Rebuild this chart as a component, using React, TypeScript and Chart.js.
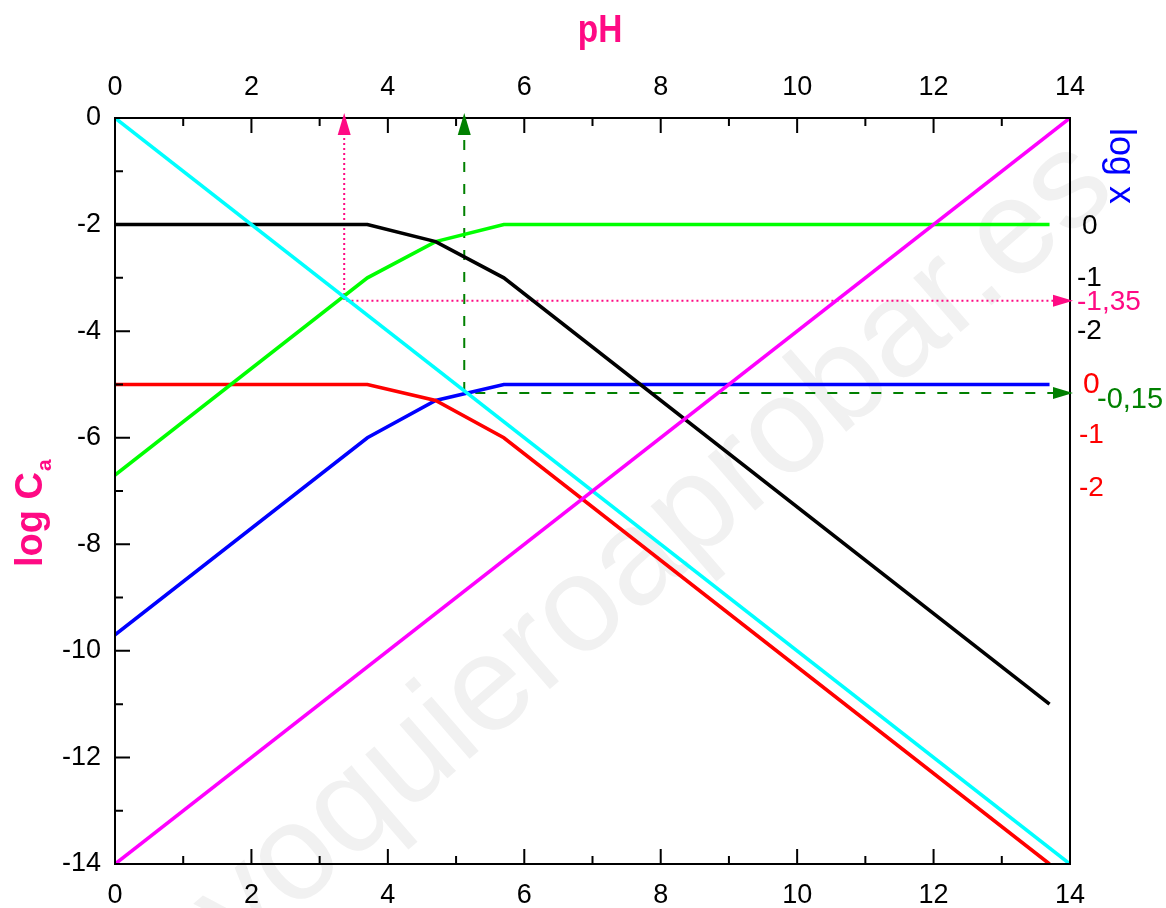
import React, { useEffect, useRef } from "react";
import { Chart, registerables } from "chart.js";

Chart.register(...registerables);

// ---- data ----
const phPoints = [0, 3.7, 4.7, 5.7, 13.7];
const blackSeries = [-2, -2, -2.32, -3, -11];
const greenSeries = [-6.7, -3, -2.32, -2, -2];
const redSeries = [-5, -5, -5.3, -6, -14];
const blueSeries = [-9.7, -6, -5.3, -5, -5];
const cyanPH = [0, 14];
const cyanSeries = [0, -14];
const magentaPH = [0, 14];
const magentaSeries = [-14, 0];
const pinkGuidePH = [3.36, 3.36, 14];
const pinkGuideY = [0, -3.43, -3.43];
const greenGuidePH = [5.12, 5.12, 14];
const greenGuideY = [0, -5.16, -5.16];
const xTickValues = [0, 2, 4, 6, 8, 10, 12, 14];
const yTickValues = [0, -2, -4, -6, -8, -10, -12, -14];
const rightLabelTexts = ["0", "-1", "-2", "-1,35", "0", "-1", "-2", "-0,15"];
const rightLabelValues = [-2, -3, -4, -3.43, -5, -6, -7, -5.16];

// ---- styles ----
const PINK = "#FF0A84";
const DGREEN = "#008000";
const FONT = "'Liberation Sans', Arial, Helvetica, sans-serif";
const rightLabelColors = ["#000", "#000", "#000", PINK, "#F00", "#F00", "#F00", DGREEN];
const rightLabelDx = [1082, 1077, 1077, 1077, 1083, 1079, 1079, 1097];
const rightLabelDy = [2, 0, 0, 2, 0, -2, -3, 7];
const rightLabelSize = [28, 28, 28, 28, 30, 28, 28, 29];

const pts = (xs: number[], ys: number[]) => xs.map((x, i) => ({ x, y: ys[i] }));

const decorPlugin = {
  id: "decor",
  beforeDraw(chart: any) {
    const ctx = chart.ctx;
    ctx.save();
    ctx.fillStyle = "#fff";
    ctx.fillRect(0, 0, chart.width, chart.height);
    // watermark
    ctx.translate(655, 548);
    ctx.rotate((-41 * Math.PI) / 180);
    ctx.font = `136px ${FONT}`;
    ctx.fillStyle = "#f1f1f1";
    ctx.textAlign = "center";
    ctx.textBaseline = "middle";
    ctx.fillText("yoquieroaprobar.es", 0, 0);
    ctx.restore();
  },
  afterDraw(chart: any) {
    const ctx = chart.ctx;
    const xs = chart.scales.x;
    const ys = chart.scales.y;
    const { left, right, top, bottom } = chart.chartArea;
    ctx.save();
    // frame
    ctx.strokeStyle = "#000";
    ctx.lineWidth = 2;
    ctx.strokeRect(left, top, right - left, bottom - top);
    // inward ticks
    ctx.lineWidth = 2;
    ctx.beginPath();
    for (let v = 0; v <= 14; v++) {
      const px = xs.getPixelForValue(v);
      const len = v % 2 === 0 ? 15 : 8;
      ctx.moveTo(px, bottom);
      ctx.lineTo(px, bottom - len);
      ctx.moveTo(px, top);
      ctx.lineTo(px, top + len);
    }
    for (let v = -14; v <= 0; v++) {
      const py = ys.getPixelForValue(v);
      const len = v % 2 === 0 ? 15 : 8;
      ctx.moveTo(left, py);
      ctx.lineTo(left + len, py);
    }
    ctx.stroke();

    // arrowheads
    const up = (x: number, color: string) => {
      const px = xs.getPixelForValue(x);
      ctx.fillStyle = color;
      ctx.beginPath();
      ctx.moveTo(px, top - 5);
      ctx.lineTo(px - 6.5, top + 17);
      ctx.lineTo(px + 6.5, top + 17);
      ctx.closePath();
      ctx.fill();
    };
    const rightArrow = (y: number, color: string) => {
      const py = ys.getPixelForValue(y);
      ctx.fillStyle = color;
      ctx.beginPath();
      ctx.moveTo(right + 3, py);
      ctx.lineTo(right - 17, py - 6);
      ctx.lineTo(right - 17, py + 6);
      ctx.closePath();
      ctx.fill();
    };
    up(pinkGuidePH[0], PINK);
    up(greenGuidePH[0], DGREEN);
    rightArrow(pinkGuideY[2], PINK);
    rightArrow(greenGuideY[2], DGREEN);

    // right-side labels
    ctx.textAlign = "left";
    ctx.textBaseline = "middle";
    rightLabelTexts.forEach((t, i) => {
      ctx.font = `${rightLabelSize[i]}px ${FONT}`;
      ctx.fillStyle = rightLabelColors[i];
      ctx.fillText(t, rightLabelDx[i], ys.getPixelForValue(rightLabelValues[i]) + rightLabelDy[i]);
    });

    // titles
    ctx.fillStyle = PINK;
    ctx.font = `bold 38px ${FONT}`;
    ctx.textAlign = "center";
    ctx.textBaseline = "alphabetic";
    ctx.save();
    ctx.translate(600, 42);
    ctx.scale(0.88, 1);
    ctx.fillText("pH", 0, 0);
    ctx.restore();

    ctx.save();
    ctx.translate(42, 567);
    ctx.rotate(-Math.PI / 2);
    ctx.textAlign = "left";
    ctx.font = `bold 38px ${FONT}`;
    ctx.fillText("log C", 0, 0);
    const w = ctx.measureText("log C").width;
    ctx.font = `bold 21px ${FONT}`;
    ctx.fillText("a", w + 1, 9);
    ctx.restore();

    ctx.save();
    ctx.translate(1110, 128);
    ctx.rotate(Math.PI / 2);
    ctx.textAlign = "left";
    ctx.fillStyle = "#0000FF";
    ctx.font = `36px ${FONT}`;
    ctx.fillText("log x", 0, 0);
    ctx.restore();

    ctx.restore();
  },
};

export default function App() {
  const ref = useRef<HTMLCanvasElement | null>(null);
  useEffect(() => {
    if (!ref.current) return;
    const line = (label: string, data: any[], color: string, extra: any = {}) => ({
      label,
      data,
      borderColor: color,
      backgroundColor: color,
      borderWidth: 3.6,
      pointRadius: 0,
      tension: 0,
      fill: false,
      ...extra,
    });
    const tickFont = { family: FONT, size: 27 };
    const chart = new Chart(ref.current, {
      type: "line",
      data: {
        datasets: [
          line("log[OH-]", pts(magentaPH, magentaSeries), "#FF00FF"),
          line("log[H+]", pts(cyanPH, cyanSeries), "#00FFFF"),
          line("black", pts(phPoints, blackSeries), "#000000"),
          line("green", pts(phPoints, greenSeries), "#00FF00"),
          line("red", pts(phPoints, redSeries), "#FF0000"),
          line("blue", pts(phPoints, blueSeries), "#0000FF"),
          line("pinkGuide", pts(pinkGuidePH, pinkGuideY), PINK, { borderWidth: 2, borderDash: [2, 3] }),
          line("greenGuide", pts(greenGuidePH, greenGuideY), DGREEN, { borderWidth: 2, borderDash: [10, 12] }),
        ],
      },
      options: {
        animation: false,
        responsive: false,
        maintainAspectRatio: false,
        layout: { padding: { left: 0, right: 96, top: 0, bottom: 0 } },
        plugins: { legend: { display: false }, tooltip: { enabled: false } },
        scales: {
          x: {
            type: "linear",
            position: "bottom",
            min: 0,
            max: 14,
            afterBuildTicks: (s: any) => { s.ticks = xTickValues.map((v) => ({ value: v })); },
            ticks: { stepSize: 2, color: "#000", font: tickFont, padding: 15, maxRotation: 0 },
            grid: { display: false, drawTicks: false },
            border: { display: false },
            afterFit: (s: any) => { s.height = 44; },
          },
          x2: {
            type: "linear",
            position: "top",
            min: 0,
            max: 14,
            afterBuildTicks: (s: any) => { s.ticks = xTickValues.map((v) => ({ value: v })); },
            ticks: { stepSize: 2, color: "#000", font: tickFont, padding: 14, maxRotation: 0 },
            grid: { display: false, drawTicks: false },
            border: { display: false },
            afterFit: (s: any) => { s.height = 118; },
          },
          y: {
            type: "linear",
            position: "left",
            min: -14,
            max: 0,
            afterBuildTicks: (s: any) => { s.ticks = yTickValues.map((v) => ({ value: v })); },
            ticks: { stepSize: 2, color: "#000", font: tickFont, padding: 14 },
            grid: { display: false, drawTicks: false },
            border: { display: false },
            afterFit: (s: any) => { s.width = 115; },
          },
        },
      },
      plugins: [decorPlugin],
    });
    return () => chart.destroy();
  }, []);
  return (
    <div style={{ position: "fixed", left: 0, top: 0, width: 1166, height: 908, background: "#fff" }}>
      <canvas ref={ref} width={1166} height={908} style={{ width: 1166, height: 908 }} />
    </div>
  );
}
